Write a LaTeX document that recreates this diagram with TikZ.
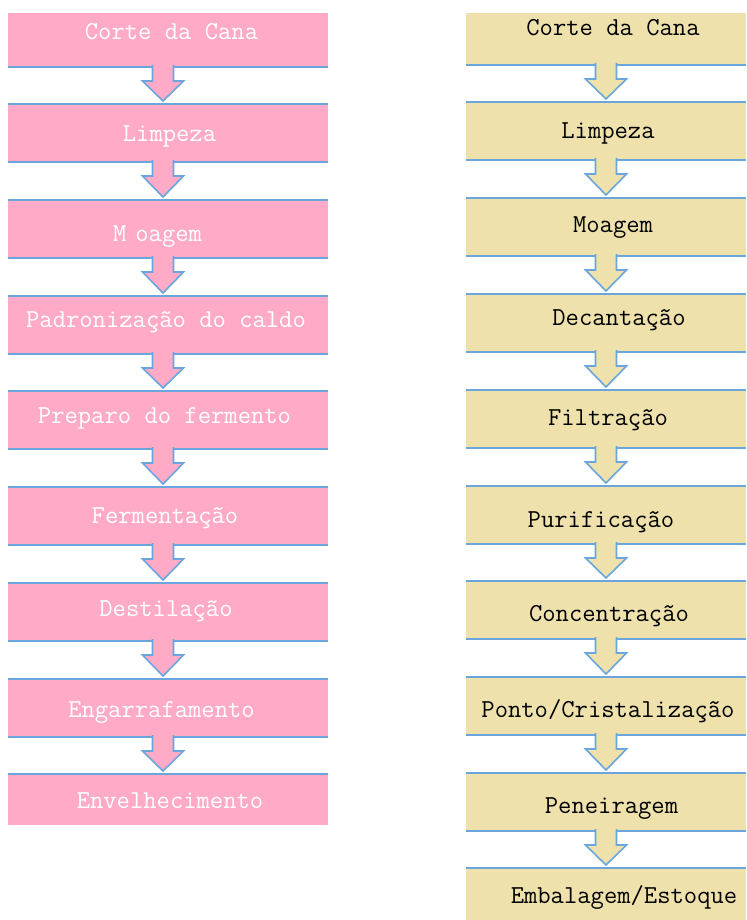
\documentclass[tikz,border=0pt]{standalone}
\usepackage{fontspec}
\usetikzlibrary{calc}
\definecolor{boxpink}{HTML}{FFABC8}
\definecolor{boxbeige}{HTML}{EEE1AC}
\definecolor{edgeblue}{HTML}{6AA5DC}
\tikzset{
  stagebox/.style={rectangle, inner sep=0pt, outer sep=0pt, minimum width=#1},
  edgeline/.style={edgeblue, line width=1.5pt},
  arrowline/.style={edgeblue, line width=1.2pt, line join=miter},
  stagetext/.style={anchor=base, inner sep=0pt, font=\ttfamily\fontsize{19.4}{22}\selectfont},
}
% block arrow from the bottom of #1 to the top of #2, at x = #3
\newcommand\flowarrow[4]{%
  \coordinate (ax) at (#3,0);
  \coordinate (as) at (#1.south -| ax);
  \coordinate (atip) at ($(#2.north -| ax)+(0,-3)$);
  \fill[#4] ($(as)+(-10.5,-2)$) -- ($(as)+(-10.5,14)$) -- ($(as)+(-20.5,14)$) -- (atip)
    -- ($(as)+(20.5,14)$) -- ($(as)+(10.5,14)$) -- ($(as)+(10.5,-2)$) -- cycle;
  \draw[arrowline] ($(as)+(-10.5,-2)$) -- ($(as)+(-10.5,14)$) -- ($(as)+(-20.5,14)$) -- (atip)
    -- ($(as)+(20.5,14)$) -- ($(as)+(10.5,14)$) -- ($(as)+(10.5,-2)$);
}
\begin{document}
\begin{tikzpicture}[x=0.75pt, y=-0.75pt]
  \fill[white] (0,0) rectangle (746,920);
  \useasboundingbox (0,0) rectangle (746,920);
  % boxes
  \foreach \i/\yc/\h in {1/40/54, 2/133/58, 3/229/58, 4/325/58, 5/420/58, 6/516/58, 7/612/58, 8/708/58, 9/799.5/51} {
    \node[stagebox=240pt, minimum height=\h*0.75pt, fill=boxpink] (l\i) at (168,\yc) {};
  }
  \foreach \i/\yc/\h in {1/39/52, 2/131/58, 3/227/58, 4/323/58, 5/419/58, 6/515/58, 7/610/58, 8/706/58, 9/802/58, 10/894/52} {
    \node[stagebox=210pt, minimum height=\h*0.75pt, fill=boxbeige] (r\i) at (606,\yc) {};
  }
  % blue edges
  \foreach \i in {1,...,8} {
    \draw[edgeline] (l\i.south west) -- (l\i.south east);
  }
  \foreach \i in {2,...,9} {
    \draw[edgeline] (l\i.north west) -- (l\i.north east);
  }
  \foreach \i in {1,...,9} {
    \draw[edgeline] (r\i.south west) -- (r\i.south east);
  }
  \foreach \i in {2,...,10} {
    \draw[edgeline] (r\i.north west) -- (r\i.north east);
  }
  % arrows
  \foreach \i [evaluate=\i as \j using int(\i+1)] in {1,...,8} {
    \flowarrow{l\i}{l\j}{163}{boxpink}
  }
  \foreach \i [evaluate=\i as \j using int(\i+1)] in {1,...,9} {
    \flowarrow{r\i}{r\j}{606}{boxbeige}
  }
  % labels
  \foreach \i/\x/\y/\txt in {1/171.5/40/{Corte da Cana}, 2/169.5/142/Limpeza, 3/157.5/241/{M\hspace{0.35em}oagem},
      4/166/327/{Padronização do caldo}, 5/164.5/423/{Preparo do fermento}, 6/165/523/Fermentação,
      7/166/616/Destilação, 8/161.5/717/Engarrafamento, 9/170/808/Envelhecimento} {
    \node[stagetext, white] (lt\i) at (\x,\y) {\txt};
  }
  \foreach \i/\x/\y/\txt in {1/613/36/{Corte da Cana}, 2/608/138/Limpeza, 3/613/232/Moagem,
      4/619/325/Decantação, 5/608/425/Filtração, 6/601/527/Purificação, 7/609/621/Concentração,
      8/608/717/{Ponto/Cristalização}, 9/611.5/813/Peneiragem, 10/624/903/{Embalagem/Estoque}} {
    \node[stagetext, black] (rt\i) at (\x,\y) {\txt};
  }
\end{tikzpicture}
\end{document}
